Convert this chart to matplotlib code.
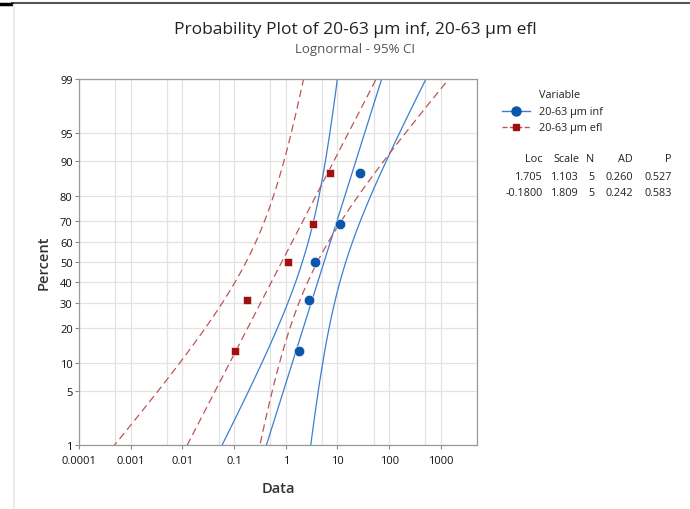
import numpy as np
import matplotlib
matplotlib.use("Agg")
import matplotlib.pyplot as plt
from matplotlib.lines import Line2D
from statistics import NormalDist

plt.rcParams['font.family'] = ['Open Sans', 'DejaVu Sans']

# data
pct = [13.0, 31.5, 50.0, 68.5, 87.0]
inf_vals = [1.83, 2.8, 3.7, 11.2, 27.1]
efl_vals = [0.1035, 0.179, 1.11, 3.29, 7.03]

names = ['20-63 µm inf', '20-63 µm efl']
loc = [1.705, -0.1800]
scale = [1.103, 1.809]
n_obs = [5, 5]
ad = [0.260, 0.242]
pval = [0.527, 0.583]

yticks = [1, 5, 10, 20, 30, 40, 50, 60, 70, 80, 90, 95, 99]
xticks = [0.0001, 0.001, 0.01, 0.1, 1, 10, 100, 1000]
xtick_labels = ['0.0001', '0.001', '0.01', '0.1', '1', '10', '100', '1000']

nd = NormalDist()
def z(p):
    return np.array([nd.inv_cdf(v / 100.0) for v in np.atleast_1d(p)])

fig = plt.figure(figsize=(6.9, 5.1), dpi=100)
ax = fig.add_axes([79 / 690, 1 - 446 / 510, 398 / 690, 366 / 510])

blue_line, blue_mk = '#3a7fd0', '#0a56ab'
red_line, red_mk = '#c05454', '#a01010'

# fitted lines + 95% CI bands (lognormal, ML)
zz = np.linspace(-2.6, 2.6, 300)
for i, (col, ls) in enumerate([(blue_line, '-'), (red_line, (0, (6, 3.5)))]):
    mu, s, n = loc[i], scale[i], n_obs[i]
    half = 1.96 * s * np.sqrt(1.0 / n + zz ** 2 * 0.117)
    centre = mu + s * zz
    for off in (-half, 0, half):
        ax.plot(np.exp(centre + off), zz, color=col, lw=0.9, ls=ls)

ax.plot(inf_vals, z(pct), 'o', color=blue_mk, ms=7.5, mec='white', mew=0.4, zorder=5)
ax.plot(efl_vals, z(pct), 's', color=red_mk, ms=5.5, mec='white', mew=0.4, zorder=5)

ax.set_xscale('log')
ax.set_xlim(1e-4, 3500)
ax.set_ylim(z(1)[0], z(99)[0])
ax.set_xticks(xticks)
ax.set_xticklabels(xtick_labels)
minor = [5 * 10.0 ** k for k in range(-4, 4)]
ax.set_xticks(minor, minor=True)
ax.xaxis.set_minor_formatter(plt.NullFormatter())
ax.set_yticks(z(yticks))
ax.set_yticklabels([str(v) for v in yticks])
ax.grid(True, which='both', color='#e3e3e3', lw=0.9)
ax.set_axisbelow(True)
ax.tick_params(which='major', length=3, width=0.8, color='#8a8a8a', labelsize=8,
               labelcolor='#111111')
ax.tick_params(axis='x', pad=4)
ax.tick_params(axis='y', pad=1.5)
ax.tick_params(which='minor', length=0)
for sp in ax.spines.values():
    sp.set_color('#9a9a9a')
    sp.set_linewidth(0.9)

ax.set_xlabel('Data', fontsize=10.5, color='#333333', labelpad=11, fontweight='semibold')
ax.set_ylabel('Percent', fontsize=10.5, color='#333333', labelpad=7, fontweight='semibold')

fig.text(355 / 690, 1 - 30 / 510, 'Probability Plot of 20-63 µm inf, 20-63 µm efl',
         ha='center', va='center', fontsize=12.5, color='#222222')
fig.text(355 / 690, 1 - 50 / 510, 'Lognormal - 95% CI', ha='center', va='center',
         fontsize=9.5, color='#555555')

# legend
W, H = 690.0, 510.0
fs = 7.8
fig.text(539 / W, 1 - 95 / H, 'Variable', fontsize=fs, va='center', color='#222222')
for k, (yy, lc, mc, mk, ls) in enumerate([(112, blue_line, blue_mk, 'o', '-'),
                                          (128, red_line, red_mk, 's', '--')]):
    fig.add_artist(Line2D([502 / W, 530 / W], [1 - yy / H] * 2, color=lc, lw=1, ls=ls))
    fig.add_artist(Line2D([516 / W], [1 - yy / H], marker=mk, color=mc,
                          ms=6.5 if mk == 'o' else 5))
    fig.text(539 / W, 1 - yy / H, names[k], fontsize=fs, va='center', color='#222222')

cols = [543, 579, 594, 633, 672]
for x, h in zip(cols, ['Loc', 'Scale', 'N', 'AD', 'P']):
    fig.text(x / W, 1 - 160 / H, h, fontsize=fs, ha='right', va='center', color='#222222')
for r, yy in enumerate([177, 193]):
    row = ['%.3f' % loc[r] if r == 0 else '%.4f' % loc[r], '%.3f' % scale[r],
           str(n_obs[r]), '%.3f' % ad[r], '%.3f' % pval[r]]
    for x, t in zip(cols, row):
        fig.text(x / W, 1 - yy / H, t, fontsize=fs, ha='right', va='center', color='#222222')

# window frame bits
fig.add_artist(Line2D([12 / W, 1], [1 - 4 / H] * 2, color='#555555', lw=1.5))
fig.add_artist(Line2D([0, 12 / W], [1 - 4.5 / H] * 2, color='black', lw=2.5))
fig.add_artist(Line2D([13.5 / W] * 2, [0, 1 - 6 / H], color='#ececec', lw=1.6))

fig.savefig('out.png', dpi=100)
